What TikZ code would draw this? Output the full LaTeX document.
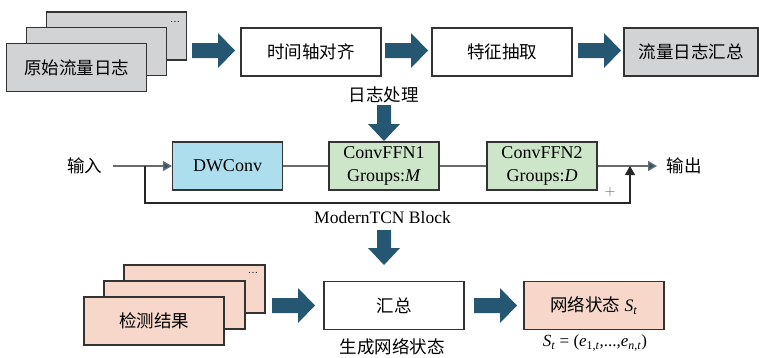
\documentclass[tikz,border=0pt]{standalone}
\usepackage{fontspec}
\setmainfont{Liberation Serif}
\newfontfamily\cjk{Noto Sans CJK SC}
\usetikzlibrary{calc,arrows.meta}
\definecolor{boxgray}{HTML}{D2D3D5}
\definecolor{fatc}{HTML}{255773}
\definecolor{blueb}{HTML}{ADDEEE}
\definecolor{greenb}{HTML}{CDE5C9}
\definecolor{pinkb}{HTML}{F6D7CA}
\definecolor{edgec}{HTML}{333333}
\definecolor{linec}{HTML}{6A6A6A}
\tikzset{
  box/.style={draw=edgec, line width=1.1pt, minimum width=140pt, minimum height=48pt, inner sep=0pt, align=center,
    font=\fontsize{17.5}{22}\selectfont},
  graybox/.style={box, fill=boxgray},
  pinkbox/.style={box, fill=pinkb},
  netbox/.style={draw=edgec, line width=1.1pt, minimum width=110pt, minimum height=48pt, inner sep=0pt, align=center,
    font=\fontsize{18}{23}\selectfont},
  lbl/.style={inner sep=0pt, font=\fontsize{17.5}{22}\selectfont},
  dots/.style={inner sep=0pt, font=\fontsize{9}{9}\selectfont},
  conn/.style={draw=linec, line width=1.4pt},
  fatR/.style={fill=fatc, to path={let \p1=(\tikztostart), \p2=(\tikztotarget) in
    (\x1,\y1-7.5) -- (\x2-17,\y1-7.5) -- (\x2-17,\y1-17.5) -- (\x2,\y1) -- (\x2-17,\y1+17.5) -- (\x2-17,\y1+7.5) -- (\x1,\y1+7.5) -- cycle}},
  fatD/.style={fill=fatc, to path={let \p1=(\tikztostart), \p2=(\tikztotarget) in
    (\x1-7,\y1) -- (\x1-7,\y2+17) -- (\x1-16,\y2+17) -- (\x1,\y2) -- (\x1+16,\y2+17) -- (\x1+7,\y2+17) -- (\x1+7,\y1) -- cycle}},
  tealtip/.style={-{Triangle[length=9pt,width=10pt,fill=fatc]}},
}
\begin{document}
\begin{tikzpicture}[x=1pt,y=-1pt]
\useasboundingbox (0,0) rectangle (759,357);
% top stack
\node[graybox] (rb) at (116.5,36) {};
\node[dots] (rbd) at (175,22) {\cjk …};
\node[graybox] (rm) at (96.5,51.5) {};
\node[graybox] (raw) at (76.5,67.5) {\cjk 原始流量日志};
% top row
\node[box] (align) at (311,52) {\cjk 时间轴对齐};
\node[box] (feat) at (502,52) {\cjk 特征抽取};
\node[graybox, minimum width=134pt] (sum) at (691,52) {\cjk 流量日志汇总};
\coordinate (a1s) at (192,50.5); \coordinate (a1e) at (235,50.5);
\coordinate (a2s) at (385,50.5); \coordinate (a2e) at (428,50.5);
\coordinate (a3s) at (578,50.5); \coordinate (a3e) at (621,50.5);
\path[fatR] (a1s) to (a1e);
\path[fatR] (a2s) to (a2e);
\path[fatR] (a3s) to (a3e);
\node[lbl] (proc) at (383.5,95) {\cjk 日志处理};
\coordinate (d1s) at (384,105); \coordinate (d1e) at (384,141);
\path[fatD] (d1s) to (d1e);
% middle row
\node[lbl] (in) at (84.5,166) {\cjk 输入};
\node[lbl] (out) at (684,166) {\cjk 输出};
\node[netbox, fill=blueb] (dw) at (227.5,166) {DWConv};
\node[netbox, fill=greenb] (f1) at (384,166) {ConvFFN1\\Groups:\textit{M}};
\node[netbox, fill=greenb] (f2) at (542,166) {ConvFFN2\\Groups:\textit{D}};
\coordinate (ins) at (113,166);
\coordinate (br) at (145,166);
\coordinate (oute) at (657,166);
\coordinate (sk) at (630,166);
\draw[conn, tealtip] (ins) -- (dw.west);
\draw[conn] (dw.east) -- (f1.west);
\draw[conn] (f1.east) -- (f2.west);
\draw[conn, tealtip] (f2.east) -- (oute);
\draw[draw=black!85, line width=1.1pt, -{Triangle[length=9pt,width=10pt]}] (br) -- (145,203) -- (630,203) -- (sk);
\node[inner sep=0pt, font=\fontsize{15}{15}\selectfont, text=black!65] (plus) at (610,192) {$+$};
\node[lbl, font=\fontsize{17.5}{22}\selectfont] (mtcn) at (382.5,218) {ModernTCN Block};
\coordinate (d2s) at (384,230); \coordinate (d2e) at (384,265);
\path[fatD] (d2s) to (d2e);
% bottom stack
\node[pinkbox, minimum width=141pt] (db) at (194.5,289) {};
\node[dots] (dbd) at (253,273) {\cjk …};
\node[pinkbox, minimum width=141pt] (dm) at (174.5,305) {};
\node[pinkbox] (det) at (154,321) {\cjk 检测结果};
\node[box] (agg) at (394,305.5) {\cjk 汇总};
\node[pinkbox] (net) at (594,305.5) {{\cjk 网络状态} \textit{S}\textsubscript{\textit{t}}};
\coordinate (a4s) at (272,305.5); \coordinate (a4e) at (315,305.5);
\coordinate (a5s) at (474,305.5); \coordinate (a5e) at (517,305.5);
\path[fatR] (a4s) to (a4e);
\path[fatR] (a5s) to (a5e);
\node[lbl] (gen) at (392,347) {\cjk 生成网络状态};
\node[lbl, font=\fontsize{17}{20}\selectfont] (form) at (595,343) {\textit{S}\textsubscript{\textit{t}} = (\textit{e}\textsubscript{1,\textit{t}},...,\textit{e}\textsubscript{\textit{n},\textit{t}})};
\end{tikzpicture}
\end{document}
